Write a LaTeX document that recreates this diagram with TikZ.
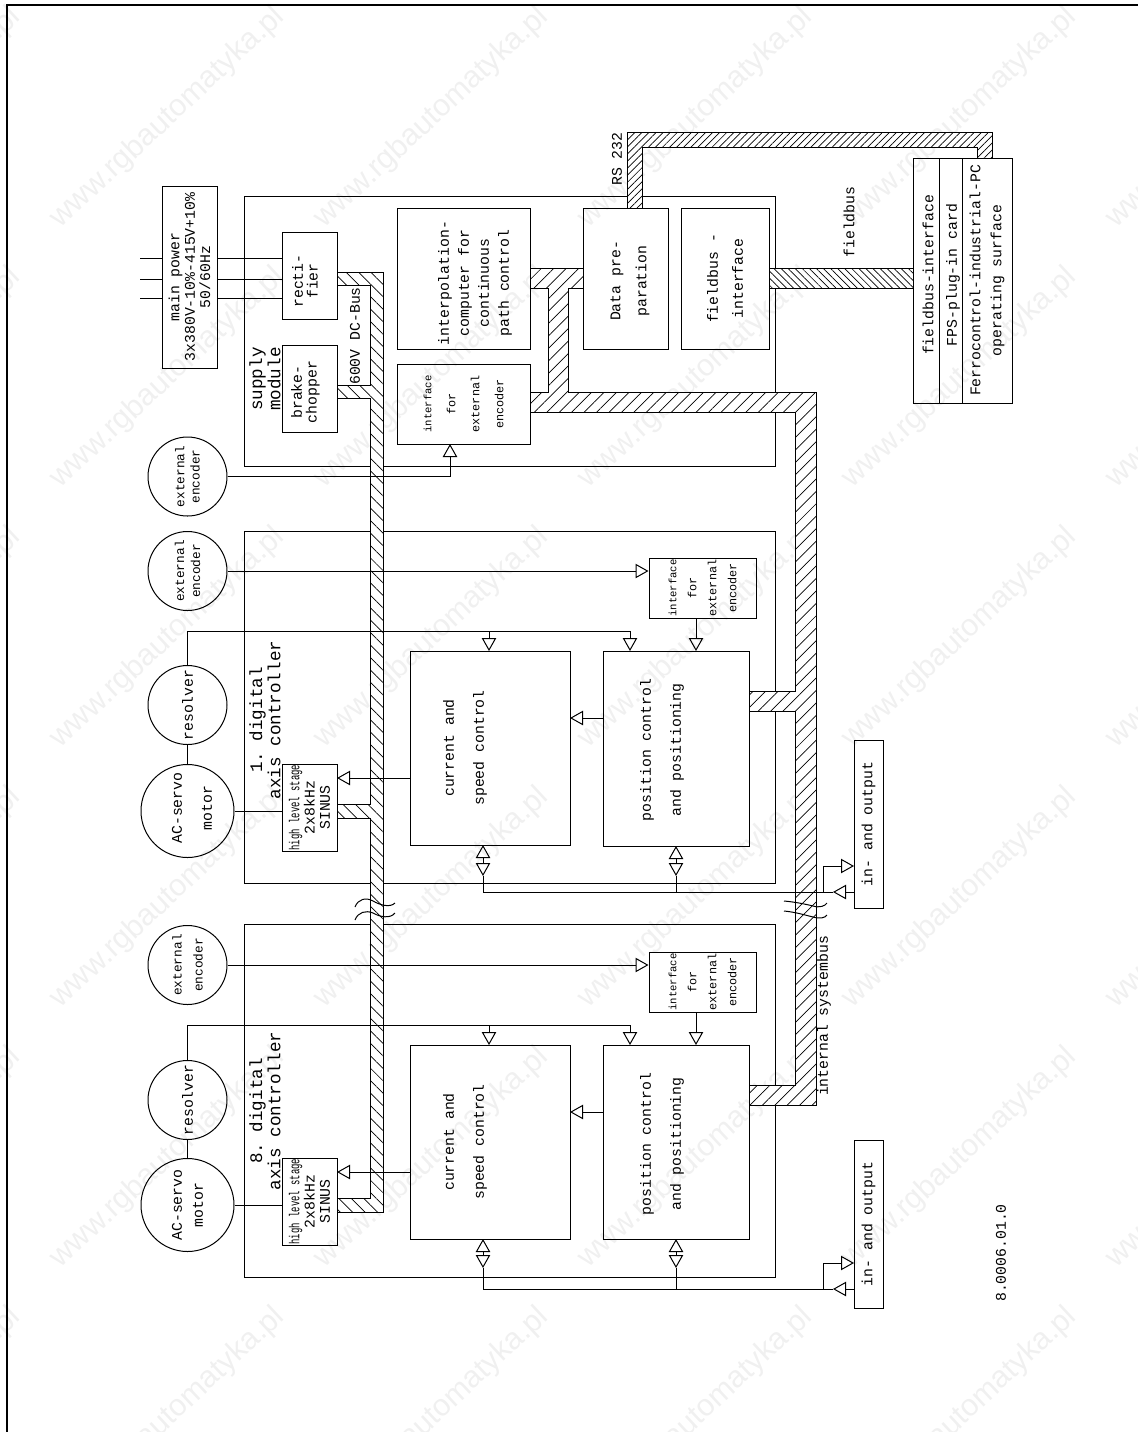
\documentclass[tikz,border=0pt]{standalone}
\usepackage{fontspec}
\setmonofont{Liberation Mono}
\newfontfamily\squeezefont[FakeStretch=0.62]{Liberation Mono}
\newfontfamily\markfont{Liberation Sans}
\usetikzlibrary{arrows.meta,patterns.meta}
\tikzset{
    diagrambox/.style 2 args={draw, rotate=90, inner sep=0pt, line width=.5pt, minimum width=#1*0.5pt, minimum height=#2*0.5pt},
    diagramround/.style={draw, circle, rotate=90, inner sep=0pt, line width=.5pt, minimum size=#1*0.5pt},
    diagramfree/.style={rotate=90, inner sep=0pt},
    diagramtext/.style={align=center, font=\ttfamily\fontsize{7.4}{#1}\selectfont},
    diagramsmall/.style={align=center, font=\ttfamily\fontsize{5.9}{#1}\selectfont},
    diagramcoder/.style={align=center, font=\ttfamily\fontsize{6.4}{#1}\selectfont},
    diagramhead/.style={align=center, font=\ttfamily\fontsize{8.8}{#1}\selectfont},
    diagramstage/.style={align=center, font=\ttfamily\fontsize{7.4}{7.6}\selectfont},
    diagramline/.style={line width=.5pt},
    diagramarrow/.style={line width=.5pt, -{Triangle[open, length=6.5pt, width=7.2pt]}},
    diagramboth/.style={line width=.5pt, {Triangle[open, length=6.5pt, width=7.2pt]}-{Triangle[open, length=6.5pt, width=7.2pt]}},
    diagramwide/.style={draw, line width=.5pt, preaction={fill=white}, pattern={Lines[angle=#1, distance=4.4pt, line width=.35pt]}},
    diagramdense/.style={draw, line width=.5pt, preaction={fill=white}, pattern={Lines[angle=#1, distance=2.5pt, line width=.35pt]}},
    diagramframe/.style={draw, line width=.5pt},
    diagrammark/.style={rotate=43, inner sep=0pt, text=black!6, font=\markfont\fontsize{15.3}{18}\selectfont}
}
\newcommand{\squeezed}[1]{{\squeezefont\fontsize{7.2}{7.6}\selectfont #1}}
\newcommand{\tightword}[1]{{\fontsize{5.3}{5.3}\selectfont #1}}
\begin{document}
\begin{tikzpicture}[x=.5pt, y=-.5pt]
    \useasboundingbox (0,0) rectangle (1138,1432);
    \foreach \markx in {-96,168,432,696,960,1224}
        \foreach \marky in {-142,118,378,638,898,1158,1418}
            \node[diagrammark] (mark\markx-\marky) at (\markx,\marky) {www.rgbautomatyka.pl};
    \draw[line width=1pt] (6.5,1432) -- (6.5,5) -- (1138,5);

    \draw[diagramframe] (244,196) rectangle (775,466);
    \draw[diagramframe] (244,531) rectangle (775,883);
    \draw[diagramframe] (244,924) rectangle (775,1277);

    \draw[diagramwide=-45] (337,272) -- (383,272) -- (383,1212) -- (337,1212) -- (337,1198) -- (370,1198) -- (370,818) -- (337,818) -- (337,804) -- (370,804) -- (370,398) -- (337,398) -- (337,385) -- (370,385) -- (370,285) -- (337,285) -- cycle;
    \draw[diagramwide=45] (530,268) -- (583,268) -- (583,288) -- (568,288) -- (568,392) -- (816,392) -- (816,1105) -- (749,1105) -- (749,1085) -- (795,1085) -- (795,711) -- (749,711) -- (749,691) -- (795,691) -- (795,412) -- (530,412) -- (530,392) -- (548,392) -- (548,288) -- (530,288) -- cycle;
    \draw[diagramdense=45] (627,208) -- (627,132) -- (992,132) -- (992,158) -- (977,158) -- (977,147) -- (642,147) -- (642,208) -- cycle;
    \draw[diagramdense=-45] (769,268) rectangle (913,288);

    \draw[diagramline] (355,907) .. controls (358,899) and (366,897) .. (373,901) .. controls (380,905) and (390,908) .. (395,903);
    \draw[diagramline] (355,920) .. controls (358,912) and (366,910) .. (373,913) .. controls (380,917) and (390,919) .. (395,913);
    \draw[diagramline] (784,901) .. controls (795,902) and (805,904) .. (813,906) .. controls (820,908) and (825,906) .. (827,903);
    \draw[diagramline] (784,911) .. controls (795,912) and (805,915) .. (813,917) .. controls (820,919) and (825,918) .. (827,915);

    \node[diagrambox={182}{55}, diagramtext=7.7] (mains) at (189.5,277) {main power\\3x380V-10\%-415V+10\%\\50/60Hz};
    \node[diagrambox={87}{55}] (rectifier) at (309.5,275.5) {};
    \node[diagrambox={87}{55}] (chopper) at (309.5,388.5) {};
    \node[diagrambox={141}{133}] (interpol) at (463.5,278.5) {};
    \node[diagrambox={80}{133}, diagramsmall=12] (ifcsup) at (463.5,404) {\tightword{interface}\\for\\external\\encoder};
    \node[diagrambox={141}{85}] (dataprep) at (625.5,278.5) {};
    \node[diagrambox={141}{88}, diagramtext=12.5] (fieldifc) at (725,278.5) {fieldbus -\\interface};
    \node[diagrambox={245}{26}] (pcfield) at (926,280.5) {};
    \node[diagrambox={245}{23}] (pccard) at (950.5,280.5) {};
    \node[diagrambox={245}{50}, diagramtext=10.5] (pcsurface) at (987,280.5) {Ferrocontrol-industrial-PC\\operating surface};
    \node[diagramfree, diagramtext=7.4] (rectifiertext) at (305,281) {recti-\\fier};
    \node[diagramfree, diagramtext=7.4] (choppertext) at (305.5,392) {brake-\\chopper};
    \node[diagramfree, diagramtext=10] (interpoltext) at (475,283) {interpolation-\\computer for\\continuous\\path control};
    \node[diagramfree, diagramtext=13] (dataprepttext) at (630,281) {Data pre-\\paration};
    \node[diagramfree, diagramtext=7] (pcfieldtext) at (928,275) {fieldbus-interface};
    \node[diagramfree, diagramtext=7] (pccardtext) at (953,275) {FPS-plug-in card};
    \node[diagramfree, diagramhead=7.4] (supplytext) at (265,379) {supply\\module};
    \node[diagramfree, diagramtext=7] (dcbustext) at (355,336) {600V DC-Bus};
    \node[diagramfree, diagramtext=7] (rstext) at (617,159) {RS 232};
    \node[diagramfree, diagramtext=7] (fieldtext) at (849,222) {fieldbus};
    \node[diagramfree, diagramtext=7] (systemtext) at (824,1016) {internal systembus};
    \node[diagramfree, diagramtext=7] (numbertext) at (1001,1253) {8.0006.01.0};

    \node[diagramround=79, diagramcoder=7.6] (encsup) at (187.5,476.5) {external\\encoder};
    \node[diagramround=79, diagramcoder=8] (encone) at (187.5,571) {external\\encoder};
    \node[diagramround=79, diagramtext=7] (resone) at (187.5,705) {resolver};
    \node[diagramround=93] (motone) at (187.5,811) {};
    \node[diagrambox={87}{55}, diagramstage] (stgone) at (309.5,807.5) {\squeezed{high level stage}\\2x8kHz\\SINUS};
    \node[diagrambox={194}{160}] (curone) at (490,748) {};
    \node[diagrambox={195}{146}] (posone) at (676,748.5) {};
    \node[diagrambox={60}{107}, diagramsmall=10] (ifcone) at (702.5,588) {\tightword{interface}\\for\\external\\encoder};
    \node[diagrambox={168}{29}, diagramtext=7] (ioone) at (868.5,824) {in- and output};
    \node[diagramfree, diagramtext=15] (motonetext) at (192,808) {AC-servo\\motor};
    \node[diagramfree, diagramhead=8] (headone) at (265,720) {1. digital\\axis controller};
    \node[diagramfree, diagramtext=15] (curonetext) at (465,748) {current and\\speed control};
    \node[diagramfree, diagramtext=15] (posonetext) at (662,750) {position control\\and positioning};

    \node[diagramround=79, diagramcoder=10.5] (enceight) at (187.5,965) {external\\encoder};
    \node[diagramround=79, diagramtext=7] (reseight) at (187.5,1100) {resolver};
    \node[diagramround=93, diagramtext=10.5] (moteight) at (187.5,1205) {AC-servo\\motor};
    \node[diagrambox={87}{55}, diagramstage] (stgeight) at (309.5,1201.5) {\squeezed{high level stage}\\2x8kHz\\SINUS};
    \node[diagrambox={194}{160}] (cureight) at (490,1142) {};
    \node[diagrambox={194}{146}] (poseight) at (676,1142) {};
    \node[diagrambox={60}{107}, diagramsmall=10] (ifceight) at (702.5,982) {\tightword{interface}\\for\\external\\encoder};
    \node[diagrambox={168}{29}, diagramtext=7] (ioeight) at (868.5,1224) {in- and output};
    \node[diagramfree, diagramhead=8] (headeight) at (265,1111) {8. digital\\axis controller};
    \node[diagramfree, diagramtext=15] (cureighttext) at (465,1142) {current and\\speed control};
    \node[diagramfree, diagramtext=15] (poseighttext) at (662,1144) {position control\\and positioning};

    \coordinate (phasea) at (140,258);
    \coordinate (phaseb) at (140,279);
    \coordinate (phasec) at (140,298);
    \draw[diagramline] (phasea) -- (phasea -| mains.north);
    \draw[diagramline] (phaseb) -- (phaseb -| mains.north);
    \draw[diagramline] (phasec) -- (phasec -| mains.north);
    \draw[diagramline] (phasea -| mains.south) -- (phasea -| rectifier.north);
    \draw[diagramline] (phaseb -| mains.south) -- (phaseb -| rectifier.north);
    \draw[diagramline] (phasec -| mains.south) -- (phasec -| rectifier.north);
    \coordinate (ifcsupin) at (450,444);
    \draw[diagramarrow] (encsup.south) -| (ifcsupin);

    \coordinate (ifconein) at (696,651);
    \coordinate (posoneres) at (630,651);
    \coordinate (curoneres) at (489,651);
    \coordinate (resonebus) at (630,631);
    \coordinate (stgonein) at (337,778);
    \coordinate (curonein) at (570,718);
    \coordinate (curonetop) at (483,845);
    \coordinate (curonetap) at (483,876);
    \coordinate (posonetop) at (676,846);
    \coordinate (posonetap) at (676,876);
    \coordinate (ionerail) at (483,892);
    \coordinate (ionetip) at (833,892);
    \coordinate (ionefork) at (823,892);
    \coordinate (ionein) at (854,866);
    \draw[diagramarrow] (encone.south) -- (encone.south -| ifcone.north);
    \draw[diagramline] (resone.west) -- (motone.east);
    \draw[diagramarrow] (resone.east) |- (resonebus) -- (posoneres);
    \draw[diagramarrow] (curoneres |- resonebus) -- (curoneres);
    \draw[diagramline] (motone.south) -- (motone.south -| stgone.north);
    \draw[diagramarrow] (stgonein -| curone.north) -- (stgonein);
    \draw[diagramarrow] (curonein -| posone.north) -- (curonein);
    \draw[diagramarrow] (ifconein |- ifcone.west) -- (ifconein);
    \draw[diagramboth] (curonetop) -- (curonetap);
    \draw[diagramboth] (posonetop) -- (posonetap);
    \draw[diagramline] (curonetap) -- (ionerail) -- (ionetip);
    \draw[diagramline] (posonetap) -- (posonetap |- ionerail);
    \draw[diagramarrow] (ionetip -| ioone.north) -- (ionetip);
    \draw[diagramarrow] (ionefork) |- (ionein);

    \coordinate (ifceightin) at (696,1045);
    \coordinate (poseightres) at (630,1045);
    \coordinate (cureightres) at (489,1045);
    \coordinate (reseightbus) at (630,1025);
    \coordinate (stgeightin) at (337,1172);
    \coordinate (cureightin) at (570,1112);
    \coordinate (cureighttop) at (483,1239);
    \coordinate (cureighttap) at (483,1268);
    \coordinate (poseighttop) at (676,1239);
    \coordinate (poseighttap) at (676,1268);
    \coordinate (ioeightrail) at (483,1289);
    \coordinate (ioeighttip) at (833,1289);
    \coordinate (ioeightfork) at (823,1289);
    \coordinate (ioeightin) at (854,1263);
    \draw[diagramarrow] (enceight.south) -- (enceight.south -| ifceight.north);
    \draw[diagramline] (reseight.west) -- (moteight.east);
    \draw[diagramarrow] (reseight.east) |- (reseightbus) -- (poseightres);
    \draw[diagramarrow] (cureightres |- reseightbus) -- (cureightres);
    \draw[diagramline] (moteight.south) -- (moteight.south -| stgeight.north);
    \draw[diagramarrow] (stgeightin -| cureight.north) -- (stgeightin);
    \draw[diagramarrow] (cureightin -| poseight.north) -- (cureightin);
    \draw[diagramarrow] (ifceightin |- ifceight.west) -- (ifceightin);
    \draw[diagramboth] (cureighttop) -- (cureighttap);
    \draw[diagramboth] (poseighttop) -- (poseighttap);
    \draw[diagramline] (cureighttap) -- (ioeightrail) -- (ioeighttip);
    \draw[diagramline] (poseighttap) -- (poseighttap |- ioeightrail);
    \draw[diagramarrow] (ioeighttip -| ioeight.north) -- (ioeighttip);
    \draw[diagramarrow] (ioeightfork) |- (ioeightin);
\end{tikzpicture}
\end{document}
